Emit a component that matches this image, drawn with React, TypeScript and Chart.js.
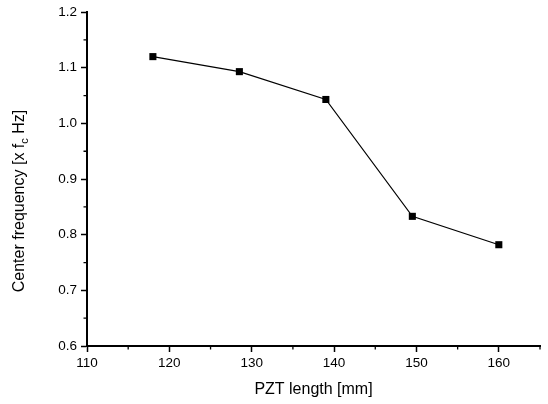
import React, { useEffect, useRef } from "react";
import { Chart, registerables } from "chart.js";

Chart.register(...registerables);

const pztLength = [118, 128.5, 139, 149.5, 160];
const centerFreq = [1.12, 1.093, 1.043, 0.833, 0.782];
const xRange = [110, 165];
const yRange = [0.6, 1.2];
const xTickLabels = ["110", "120", "130", "140", "150", "160"];
const xTitle = "PZT length [mm]";
const yTitleMain = "Center frequency [x f";
const yTitleSub = "c";
const yTitleEnd = " Hz]";

const FONT = "'Liberation Sans', Arial, sans-serif";

const titlePlugin = {
  id: "customTitles",
  afterDraw(chart: any) {
    const ctx = chart.ctx;
    const area = chart.chartArea;
    ctx.save();
    ctx.fillStyle = "#000";
    ctx.font = `16px ${FONT}`;
    ctx.textAlign = "center";
    ctx.textBaseline = "middle";
    ctx.fillText(xTitle, (area.left + area.right) / 2, 390);
    const big = `16px ${FONT}`;
    const small = `11px ${FONT}`;
    ctx.font = big;
    const w1 = ctx.measureText(yTitleMain).width;
    const w3 = ctx.measureText(yTitleEnd).width;
    ctx.font = small;
    const w2 = ctx.measureText(yTitleSub).width;
    const total = w1 + w2 + w3;
    ctx.translate(20, 201);
    ctx.rotate(-Math.PI / 2);
    ctx.textAlign = "left";
    ctx.textBaseline = "middle";
    let x = -total / 2;
    ctx.font = big;
    ctx.fillText(yTitleMain, x, 0);
    x += w1;
    ctx.font = small;
    ctx.fillText(yTitleSub, x, 5);
    x += w2;
    ctx.font = big;
    ctx.fillText(yTitleEnd, x, 0);
    ctx.restore();
  },
};

const minorTickPlugin = {
  id: "minorTicks",
  afterDraw(chart: any) {
    const ctx = chart.ctx;
    const xs = chart.scales.x;
    const ys = chart.scales.y;
    const area = chart.chartArea;
    ctx.save();
    ctx.strokeStyle = "#000";
    ctx.lineWidth = 1.3;
    ctx.beginPath();
    for (let v = xRange[0] + 5; v < xRange[1] + 0.01; v += 10) {
      const px = xs.getPixelForValue(v);
      ctx.moveTo(px, area.bottom);
      ctx.lineTo(px, area.bottom + 3.5);
    }
    for (let v = yRange[0] + 0.05; v < yRange[1]; v += 0.1) {
      const py = ys.getPixelForValue(v);
      ctx.moveTo(area.left, py);
      ctx.lineTo(area.left - 3.5, py);
    }
    ctx.stroke();
    ctx.restore();
  },
};

export default function App() {
  const ref = useRef<HTMLCanvasElement | null>(null);

  useEffect(() => {
    document.body.style.margin = "0";
    if (!ref.current) return;
    const chart = new Chart(ref.current, {
      type: "line",
      data: {
        datasets: [
          {
            data: pztLength.map((x, i) => ({ x, y: centerFreq[i] })),
            borderColor: "#000",
            borderWidth: 1.2,
            backgroundColor: "#000",
            pointStyle: "rect",
            pointRadius: 5,
            pointBorderWidth: 0,
            pointBackgroundColor: "#000",
            tension: 0,
          },
        ],
      },
      options: {
        responsive: false,
        animation: false,
        layout: { padding: { top: 12, right: 8, left: 0, bottom: 0 } },
        plugins: { legend: { display: false }, tooltip: { enabled: false } },
        scales: {
          x: {
            type: "linear",
            min: xRange[0],
            max: xRange[1],
            afterFit: (s: any) => {
              s.height = 58;
            },
            border: { display: true, color: "#000", width: 2 },
            grid: {
              drawOnChartArea: false,
              drawTicks: true,
              tickLength: 6,
              tickWidth: 1.5,
              tickColor: (c: any) =>
                c.tick && xTickLabels.includes(String(Math.round(c.tick.value)))
                  ? "#000"
                  : "rgba(0,0,0,0)",
            },
            ticks: {
              stepSize: 10,
              autoSkip: false,
              maxRotation: 0,
              padding: 3,
              color: "#000",
              font: { family: FONT, size: 13.5 },
              callback: (v: any) => {
                const s = String(Math.round(Number(v)));
                return xTickLabels.includes(s) ? s : "";
              },
            },
          },
          y: {
            type: "linear",
            min: yRange[0],
            max: yRange[1],
            afterFit: (s: any) => {
              s.width = 87;
            },
            border: { display: true, color: "#000", width: 2 },
            grid: {
              drawOnChartArea: false,
              drawTicks: true,
              tickLength: 6,
              tickWidth: 1.5,
              tickColor: "#000",
            },
            ticks: {
              stepSize: 0.1,
              autoSkip: false,
              padding: 4,
              color: "#000",
              font: { family: FONT, size: 13.5 },
              callback: (v: any) => Number(v).toFixed(1),
            },
          },
        },
      },
      plugins: [titlePlugin, minorTickPlugin],
    });
    return () => chart.destroy();
  }, []);

  return (
    <div style={{ width: 548, height: 404 }}>
      <canvas ref={ref} width={548} height={404} />
    </div>
  );
}
